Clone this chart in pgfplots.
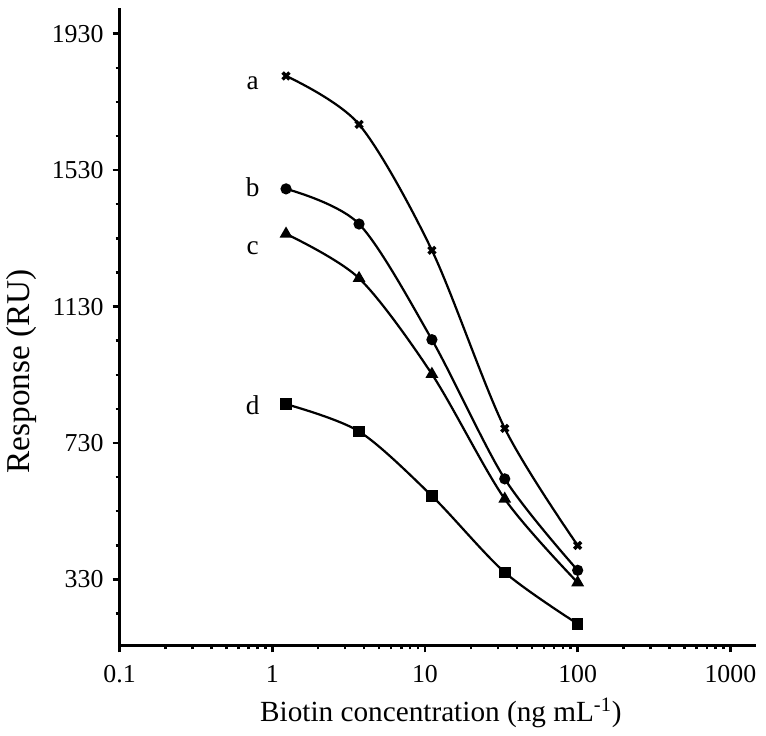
\documentclass[border=0pt]{standalone}
\usepackage{pgfplots}
\pgfplotsset{compat=1.18}
\usepackage{fontspec}
\setmainfont{Liberation Serif}

\begin{document}
\begin{tikzpicture}
\begin{axis}[
    xmode=log,
    scale only axis,
    width=315.5pt, height=316pt,
    xmin=0.1, xmax=1470,
    ymin=137, ymax=2005,
    axis lines=left,
    axis line style={-, line width=1.7pt},
    tick align=outside,
    major tick length=3.5pt,
    minor tick length=2pt,
    every tick/.style={line width=1.2pt, black},
    xtick={0.1,1,10,100,1000},
    xticklabels={0.1,1,10,100,1000},
    ytick={330,730,1130,1530,1930},
    yticklabels={330,730,1130,1530,1930},
    minor ytick={230,430,530,630,830,930,1030,1230,1330,1430,1630,1730,1830},
    tick label style={font=\fontsize{12.8}{14}\selectfont},
    xticklabel style={yshift=-3pt},
    yticklabel style={xshift=-1pt},
    xlabel={Biotin concentration (ng mL\textsuperscript{-1})},
    ylabel={Response (RU)},
    xlabel style={font=\fontsize{14.5}{17}\selectfont, at={(axis description cs:0.505,0)}, anchor=base, yshift=-38pt},
    ylabel style={font=\fontsize{16.5}{19}\selectfont, at={(axis description cs:0,0.43)}, anchor=center, yshift=48.5pt},
    clip=false,
]
\addplot[smooth, line width=1.1pt, mark=x, mark size=2.4pt, mark options={line width=1.7pt}]
    coordinates {(1.23,1806) (3.7,1664) (11.1,1295) (33.3,773) (100,430)};
\addplot[smooth, line width=1.1pt, mark=*, mark size=2.2pt]
    coordinates {(1.23,1475) (3.7,1372) (11.1,1033) (33.3,625) (100,357)};
\addplot[smooth, line width=1.1pt, mark=triangle*, mark size=2.6pt]
    coordinates {(1.23,1343) (3.7,1213) (11.1,932) (33.3,566) (100,321)};
\addplot[smooth, line width=1.1pt, mark=square*, mark size=2.3pt]
    coordinates {(1.23,844) (3.7,764) (11.1,575) (33.3,351) (100,200)};
\node[font=\fontsize{13.5}{15}\selectfont] at (axis cs:0.743,1785) {a};
\node[font=\fontsize{13.5}{15}\selectfont] at (axis cs:0.743,1481) {b};
\node[font=\fontsize{13.5}{15}\selectfont] at (axis cs:0.743,1301) {c};
\node[font=\fontsize{13.5}{15}\selectfont] at (axis cs:0.743,841) {d};
\end{axis}
\path (current axis.north east) ++(5pt,4pt);
\end{tikzpicture}
\end{document}
